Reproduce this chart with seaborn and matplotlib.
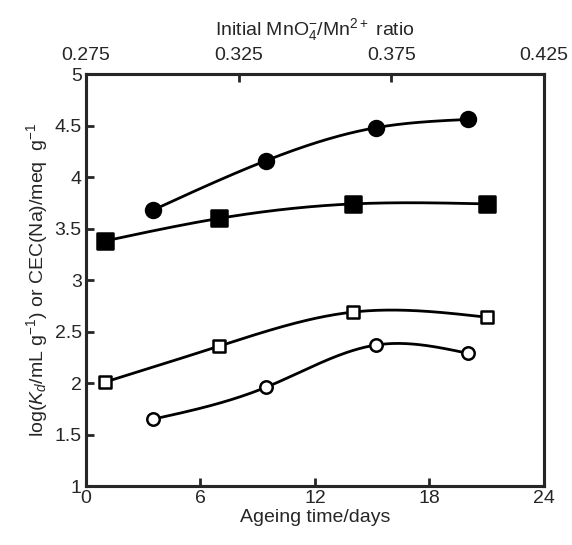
import numpy as np
import pandas as pd
import matplotlib
matplotlib.use("Agg")
import matplotlib.pyplot as plt
import seaborn as sns

# data
ageing_days = [1, 7, 14, 21]
ratio = [0.297, 0.334, 0.370, 0.400]
filled_squares = [3.38, 3.60, 3.74, 3.74]
open_squares = [2.01, 2.36, 2.69, 2.64]
filled_circles = [3.68, 4.16, 4.48, 4.56]
open_circles = [1.65, 1.96, 2.37, 2.29]

sns.set_style("ticks")
plt.rcParams["font.family"] = ["Liberation Sans", "DejaVu Sans"]
plt.rcParams["mathtext.fontset"] = "custom"
plt.rcParams["mathtext.rm"] = "Liberation Sans"
plt.rcParams["mathtext.it"] = "Liberation Sans:italic"
FS = 14


def smooth(x, y, n=200):
    # natural cubic spline through the points, only for the drawn curve
    x = np.asarray(x, float)
    y = np.asarray(y, float)
    k = len(x)
    h = np.diff(x)
    A = np.zeros((k, k))
    b = np.zeros(k)
    A[0, 0] = A[-1, -1] = 1
    for i in range(1, k - 1):
        A[i, i - 1] = h[i - 1]
        A[i, i] = 2 * (h[i - 1] + h[i])
        A[i, i + 1] = h[i]
        b[i] = 6 * ((y[i + 1] - y[i]) / h[i] - (y[i] - y[i - 1]) / h[i - 1])
    M = np.linalg.solve(A, b)
    xs = np.linspace(x[0], x[-1], n)
    idx = np.clip(np.searchsorted(x, xs) - 1, 0, k - 2)
    t0 = x[idx + 1] - xs
    t1 = xs - x[idx]
    hi = h[idx]
    ys = (M[idx] * t0 ** 3 + M[idx + 1] * t1 ** 3) / (6 * hi) \
        + (y[idx] / hi - M[idx] * hi / 6) * t0 \
        + (y[idx + 1] / hi - M[idx + 1] * hi / 6) * t1
    return pd.DataFrame({"x": xs, "y": ys})


fig = plt.figure(figsize=(5.72, 5.45), dpi=100)
ax = fig.add_axes([0.150, 0.108, 0.801, 0.756])
ax2 = ax.twiny()

# squares against ageing time (bottom axis)
for vals, face in [(filled_squares, "black"), (open_squares, "white")]:
    curve = smooth(ageing_days, vals)
    sns.lineplot(data=curve, x="x", y="y", ax=ax, color="black", lw=2, zorder=2)
    sq = pd.DataFrame({"x": ageing_days, "y": vals})
    size = 120 if face == "black" else 80
    sns.scatterplot(data=sq, x="x", y="y", ax=ax, marker="s", s=size,
                    color=face, edgecolor="black", linewidth=1.8, zorder=3)

# circles against initial ratio (top axis)
for vals, face in [(filled_circles, "black"), (open_circles, "white")]:
    curve = smooth(ratio, vals)
    sns.lineplot(data=curve, x="x", y="y", ax=ax2, color="black", lw=2, zorder=2)
    ci = pd.DataFrame({"x": ratio, "y": vals})
    size = 115 if face == "black" else 80
    sns.scatterplot(data=ci, x="x", y="y", ax=ax2, marker="o", s=size,
                    color=face, edgecolor="black", linewidth=1.8, zorder=3)

ax.set_xlim(0, 24)
ax.set_ylim(1, 5)
ax.set_xticks([0, 6, 12, 18, 24])
ax.set_yticks([1, 1.5, 2, 2.5, 3, 3.5, 4, 4.5, 5])
ax.set_yticklabels(["1", "1.5", "2", "2.5", "3", "3.5", "4", "4.5", "5"])
ax.set_xlabel("Ageing time/days", fontsize=FS, labelpad=1)
ax.set_ylabel(r"log($K_d$/mL g$^{-1}$) or CEC(Na)/meq  g$^{-1}$", fontsize=FS, labelpad=3)
ax.tick_params(direction="in", length=6, width=2, labelsize=FS, pad=3,
               right=False, top=False)

ax2.set_xlim(0.275, 0.425)
ax2.set_ylim(1, 5)
ax2.set_xticks([0.275, 0.325, 0.375, 0.425])
ax2.set_xticklabels(["0.275", "0.325", "0.375", "0.425"])
ax2.set_xlabel(r"Initial MnO$_4^{-}$/Mn$^{2+}$ ratio", fontsize=FS, labelpad=9)
ax2.tick_params(direction="in", length=6, width=2, labelsize=FS, pad=7)
ax2.set_ylabel("")

for a in (ax, ax2):
    for sp in a.spines.values():
        sp.set_linewidth(2.2)
        sp.set_visible(True)

fig.savefig("out.png", dpi=100)
